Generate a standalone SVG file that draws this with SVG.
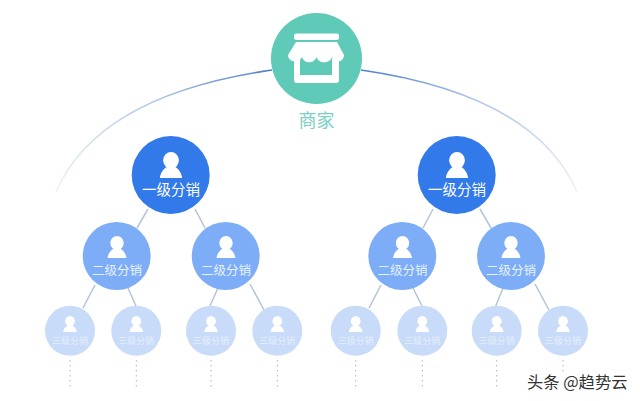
<svg xmlns="http://www.w3.org/2000/svg" width="640" height="401" viewBox="0 0 640 401">
<style>
.t{font-family:"Noto Sans CJK SC","Liberation Sans",sans-serif;fill:#fff;text-anchor:middle}
.l1{font-size:14.5px}
.l2{font-size:12.5px;fill:#e8f1ff}
.l3{font-size:9px;fill:#e4eefc}
.c{stroke:#b3c4d8;stroke-width:1.5;fill:none}
.d{stroke:#a9b4c2;stroke-width:1;stroke-dasharray:1.5 3.5;fill:none}
.p{fill:#fff}
.n1{fill:#3279ea}
.n2{fill:#7cadf6}
.n3{fill:#c8dbf8}
</style>
<defs>
<linearGradient id="al" gradientUnits="userSpaceOnUse" x1="272" y1="70" x2="58" y2="190">
<stop offset="0" stop-color="#4f7fcf"/><stop offset=".45" stop-color="#a9c3e6"/><stop offset="1" stop-color="#eef1f5"/>
</linearGradient>
<linearGradient id="ar" gradientUnits="userSpaceOnUse" x1="361" y1="70" x2="578" y2="190">
<stop offset="0" stop-color="#4f7fcf"/><stop offset=".45" stop-color="#a9c3e6"/><stop offset="1" stop-color="#eef1f5"/>
</linearGradient>
<g id="person" fill="#fff">
<ellipse cx="0" cy="-9" rx="8.5" ry="9"/>
<path d="M-4-2 C-8 0 -11.500 5 -12 10 H12 C11.500 5 8 0 4-2 C2 0 -2 0 -4-2Z"/>
</g>
</defs>
<rect width="640" height="401" fill="#fff"/>
<g id="connectors">
<path d="M272 70 C175 84 88 118 56 192" fill="none" stroke="url(#al)" stroke-width="1.6"/>
<path d="M361 70 C458 84 545 118 577 192" fill="none" stroke="url(#ar)" stroke-width="1.6"/>
<path class="c" d="M148 209L137 228M195 209L205 228M95 285L83 308M128 288L136 306M218 288L209 308M250 284L264 310"/>
<path class="c" d="M433 209L423 228M480 209L491 228M381 285L369 308M413 288L422 306M503 288L495 308M535 284L549 310"/>
<path class="d" d="M70 360V388M136.300 360V388M211 360V388M277.300 360V388M355.700 360V388M422.300 360V388M496.700 360V388M563 360V374"/>
</g>
<g id="store">
<circle cx="316.500" cy="58.500" r="45.500" fill="#5ecab7"/>
<rect x="294" y="33.500" width="45" height="6.500" rx="2.500" class="p"/>
<path class="p" d="M296 42H337L344 55C344 63 334 63 332 57C330 64 318.500 64 316.500 57C314.500 64 304 64 302 57C300 63 288 63 288 55Z"/>
<path class="p" d="M294 58V80Q294 83 297 83H336Q339 83 339 80V58H332V75H300V58Z"/>
<text class="t" x="316.500" y="127" style="font-size:18px;fill:#7bd0c4">商家</text>
</g>
<g id="l1-a"><circle cx="170.700" cy="175" r="39" class="n1"/><use href="#person" transform="translate(171 168.700) scale(.93)"/><text class="t l1" x="171" y="195">一级分销</text></g>
<g id="l1-b"><circle cx="456.700" cy="175" r="39" class="n1"/><use href="#person" transform="translate(457 168.700) scale(.93)"/><text class="t l1" x="457" y="195">一级分销</text></g>
<g id="l2-a"><circle cx="116.700" cy="256" r="34" class="n2"/><use href="#person" transform="translate(117 250.200) scale(.79)"/><text class="t l2" x="117" y="274.500">二级分销</text></g>
<g id="l2-b"><circle cx="225.700" cy="256" r="34" class="n2"/><use href="#person" transform="translate(226 250.200) scale(.79)"/><text class="t l2" x="226" y="274.500">二级分销</text></g>
<g id="l2-c"><circle cx="402.300" cy="256" r="34" class="n2"/><use href="#person" transform="translate(402.500 250.200) scale(.79)"/><text class="t l2" x="402.500" y="274.500">二级分销</text></g>
<g id="l2-d"><circle cx="511" cy="256" r="34" class="n2"/><use href="#person" transform="translate(511 250.200) scale(.79)"/><text class="t l2" x="511" y="274.500">二级分销</text></g>
<g id="l3-a"><circle cx="70" cy="330.700" r="25" class="n3"/><use href="#person" transform="translate(70 326.300) scale(.57)"/><text class="t l3" x="70" y="344">三级分销</text></g>
<g id="l3-b"><circle cx="136.300" cy="330.700" r="25" class="n3"/><use href="#person" transform="translate(136.300 326.300) scale(.57)"/><text class="t l3" x="136.300" y="344">三级分销</text></g>
<g id="l3-c"><circle cx="211" cy="330.700" r="25" class="n3"/><use href="#person" transform="translate(211 326.300) scale(.57)"/><text class="t l3" x="211" y="344">三级分销</text></g>
<g id="l3-d"><circle cx="277.300" cy="330.700" r="25" class="n3"/><use href="#person" transform="translate(277.300 326.300) scale(.57)"/><text class="t l3" x="277.300" y="344">三级分销</text></g>
<g id="l3-e"><circle cx="355.700" cy="330.700" r="25" class="n3"/><use href="#person" transform="translate(355.700 326.300) scale(.57)"/><text class="t l3" x="355.700" y="344">三级分销</text></g>
<g id="l3-f"><circle cx="422.300" cy="330.700" r="25" class="n3"/><use href="#person" transform="translate(422.300 326.300) scale(.57)"/><text class="t l3" x="422.300" y="344">三级分销</text></g>
<g id="l3-g"><circle cx="496.700" cy="330.700" r="25" class="n3"/><use href="#person" transform="translate(496.700 326.300) scale(.57)"/><text class="t l3" x="496.700" y="344">三级分销</text></g>
<g id="l3-h"><circle cx="563" cy="330.700" r="25" class="n3"/><use href="#person" transform="translate(563 326.300) scale(.57)"/><text class="t l3" x="563" y="344">三级分销</text></g>
<text x="527" y="387.500" style="font-family:'Noto Sans CJK SC','Liberation Sans',sans-serif;font-size:16.300px;fill:#333;stroke:#fff;stroke-width:3;paint-order:stroke">头条 @趋势云</text>
</svg>
